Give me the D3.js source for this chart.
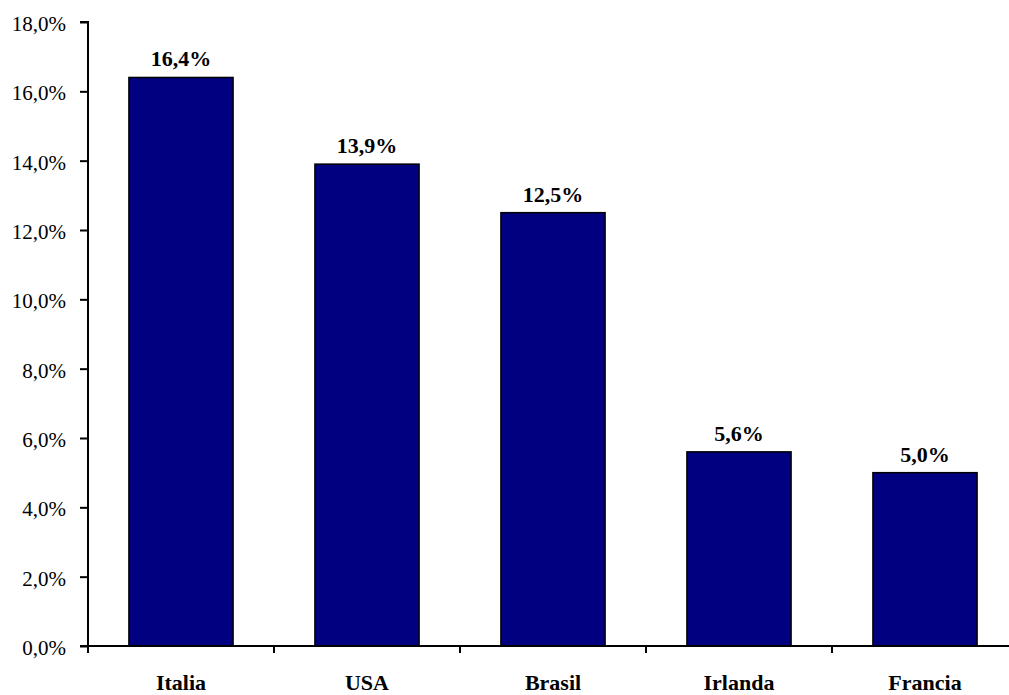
<!DOCTYPE html>
<html>
<head>
<meta charset="utf-8">
<script src="https://cdn.jsdelivr.net/npm/d3@7"></script>
<style>
  html, body { margin: 0; padding: 0; background: #fff; }
  svg { display: block; }
</style>
</head>
<body>
<svg id="chart" width="1009" height="695"></svg>
<script>
const categories = ["Italia", "USA", "Brasil", "Irlanda", "Francia"];
const values = [16.4, 13.9, 12.5, 5.6, 5.0];
const yTicks = [0, 2, 4, 6, 8, 10, 12, 14, 16, 18];

(function () {
const fmt = v => v.toFixed(1).replace(".", ",") + "%";

const svg = d3.select("#chart");
const mLeft = 88, mRight = 1018, mTop = 22, mBottom = 646;

const x = d3.scaleBand().domain(categories).range([mLeft, mRight])
  .paddingInner(0.44).paddingOuter(0.22);
const y = d3.scaleLinear().domain([0, 18]).range([mBottom, mTop]);

const font = "'Liberation Serif', 'Times New Roman', serif";

// bars
svg.append("g").selectAll("rect").data(values).join("rect")
  .attr("x", (d, i) => x(categories[i]))
  .attr("y", d => y(d))
  .attr("width", x.bandwidth())
  .attr("height", d => y(0) - y(d))
  .attr("fill", "#000080")
  .attr("stroke", "#000")
  .attr("stroke-width", 1.5);

// value labels
svg.append("g").selectAll("text").data(values).join("text")
  .attr("x", (d, i) => x(categories[i]) + x.bandwidth() / 2)
  .attr("y", d => y(d) - 11)
  .attr("text-anchor", "middle")
  .attr("font-family", font)
  .attr("font-weight", "bold")
  .attr("font-size", 22)
  .attr("fill", "#000")
  .text(d => fmt(d));

// y axis
const yAxis = d3.axisLeft(y).tickValues(yTicks).tickSize(8).tickFormat(fmt);
const gy = svg.append("g").attr("transform", `translate(${mLeft},0)`).call(yAxis);
gy.select(".domain").attr("d", `M-8,${mTop}H0V${mBottom}`).attr("stroke", "#000").attr("stroke-width", 2);
gy.selectAll(".tick line").attr("stroke", "#000").attr("stroke-width", 2);
gy.selectAll(".tick text")
  .attr("x", -22)
  .attr("dy", null)
  .attr("y", 8.5)
  .attr("font-family", font)
  .attr("font-size", 21)
  .attr("fill", "#000");

// x axis line
const step = x.step();
svg.append("line")
  .attr("x1", mLeft - 8).attr("x2", mRight)
  .attr("y1", mBottom).attr("y2", mBottom)
  .attr("stroke", "#000").attr("stroke-width", 2);

// x ticks at category boundaries
const boundaries = [mLeft].concat(categories.map(c => x(c) + x.bandwidth() + step * x.paddingInner() / 2));
svg.append("g").selectAll("line").data(boundaries).join("line")
  .attr("x1", d => d).attr("x2", d => d)
  .attr("y1", mBottom).attr("y2", mBottom + 7)
  .attr("stroke", "#000").attr("stroke-width", 2);

// category labels
svg.append("g").selectAll("text").data(categories).join("text")
  .attr("x", d => x(d) + x.bandwidth() / 2)
  .attr("y", 690)
  .attr("text-anchor", "middle")
  .attr("font-family", font)
  .attr("font-weight", "bold")
  .attr("font-size", 22)
  .attr("fill", "#000")
  .text(d => d);
})();
</script>
</body>
</html>
